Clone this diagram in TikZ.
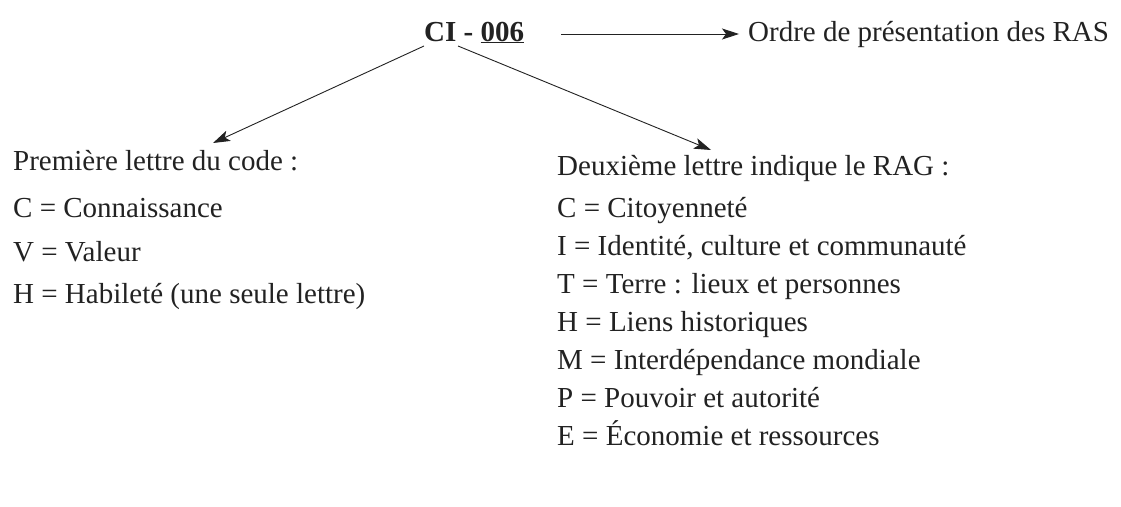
\documentclass[tikz,border=0pt]{standalone}
\usepackage{fontspec}
\setmainfont{Liberation Serif}
\usetikzlibrary{arrows.meta}
\definecolor{ink}{HTML}{222222}
\begin{document}
\begin{tikzpicture}[x=1pt,y=-1pt,
  txt/.style={font=\fontsize{29}{34}\selectfont, text=ink, inner sep=0pt, anchor=base west},
  conn/.style={draw=ink, line width=0.9pt, -{Stealth[length=17pt,width=11pt,inset=4pt]}}]
\useasboundingbox[fill=white] (0,0) rectangle (1121,506);
% top line
\node[txt] (code) at (424,41) {\textbf{CI - \underline{006}}};
\node[txt] (ordre) at (748,41) {Ordre de présentation des RAS};
% left column
\node[txt] (l0) at (13,170) {Première lettre du code :};
\node[txt] (l1) at (13,217) {C = Connaissance};
\node[txt] (l2) at (13,261) {V = Valeur};
\node[txt] (l3) at (13,303) {H = Habileté (une seule lettre)};
% right column
\node[txt] (r0) at (557,175) {Deuxième lettre indique le RAG :};
\node[txt] (r1) at (557,217) {C = Citoyenneté};
\node[txt] (r2) at (557,255) {I = Identité, culture et communauté};
\node[txt] (r3) at (557,293) {T = Terre : lieux et personnes};
\node[txt] (r4) at (557,331) {H = Liens historiques};
\node[txt] (r5) at (557,369) {M = Interdépendance mondiale};
\node[txt] (r6) at (557,407) {P = Pouvoir et autorité};
\node[txt] (r7) at (557,445) {E = Économie et ressources};
% connectors
\draw[conn] ([shift={(37pt,7pt)}]code.base east) -- ([shift={(-9pt,7pt)}]ordre.base west);
\draw[conn] ([shift={(0pt,-5pt)}]code.base west) -- ([shift={(200pt,27pt)}]l0.base west);
\draw[conn] ([shift={(34pt,-5pt)}]code.base west) -- ([shift={(154pt,25pt)}]r0.base west);
\end{tikzpicture}
\end{document}
